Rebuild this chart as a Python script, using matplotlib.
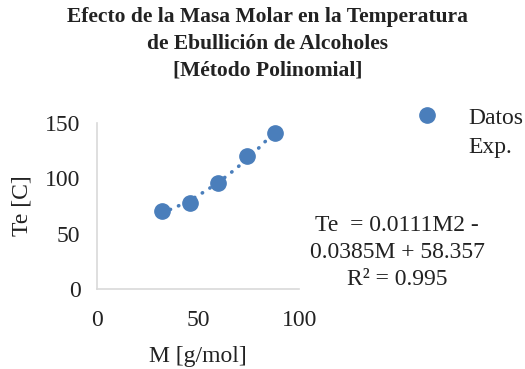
import matplotlib
matplotlib.use("Agg")
import matplotlib.pyplot as plt
import numpy as np

masa_molar = [32, 46, 60, 74, 88]
temp_ebullicion = [70, 78, 96, 120, 141]
x_ticks = [0, 50, 100]
y_ticks = [0, 50, 100, 150]

titulo = "Efecto de la Masa Molar en la Temperatura\nde Ebullición de Alcoholes\n[Método Polinomial]"
ecuacion = "Te  = 0.0111M2 -\n0.0385M + 58.357\nR² = 0.995"

plt.rcParams["font.family"] = ["Liberation Serif", "DejaVu Serif"]
blue = "#4a7ebb"
ink = "#222222"

fig = plt.figure(figsize=(5.25, 3.69), dpi=100)
ax = fig.add_axes([0.185, 0.217, 0.385, 0.45])

x = np.array(masa_molar, dtype=float)
y = np.array(temp_ebullicion, dtype=float)
coef = np.polyfit(x, y, 2)
xs = np.linspace(x.min(), x.max(), 200)
ax.plot(xs, np.polyval(coef, xs), color=blue, lw=2.6,
        linestyle=(0, (0.1, 2.4)), dash_capstyle="round", zorder=2)
ax.plot(x, y, "o", color=blue, markersize=11, zorder=3, clip_on=False)

ax.set_xlim(0, 100)
ax.set_ylim(0, 150)
ax.set_xticks(x_ticks)
ax.set_yticks(y_ticks)
ax.tick_params(length=0, labelsize=17, colors=ink)
ax.tick_params(axis="y", pad=12)
ax.tick_params(axis="x", pad=15)
for side in ("top", "right"):
    ax.spines[side].set_visible(False)
for side in ("left", "bottom"):
    ax.spines[side].set_color("#d9d9d9")
    ax.spines[side].set_linewidth(1.2)

ax.set_xlabel("M [g/mol]", fontsize=17, color=ink, labelpad=11)
ax.set_ylabel("Te [C]", fontsize=17, color=ink, labelpad=9)

fig.text(0.51, 0.98, titulo, ha="center", va="top", fontsize=15.5,
         fontweight="bold", color=ink, linespacing=1.45)

# leyenda
fig.lines.append(plt.Line2D([427 / 525], [1 - 115 / 369], marker="o",
                            color=blue, markersize=11, linestyle="none",
                            transform=fig.transFigure))
fig.text(468 / 525, 1 - 108 / 369, "Datos\nExp.", ha="left", va="top",
         fontsize=17, color=ink, linespacing=1.5)

fig.text(397 / 525, 1 - 215 / 369, ecuacion, ha="center", va="top",
         fontsize=17, color=ink, linespacing=1.37)

fig.savefig("out.png", dpi=100)
